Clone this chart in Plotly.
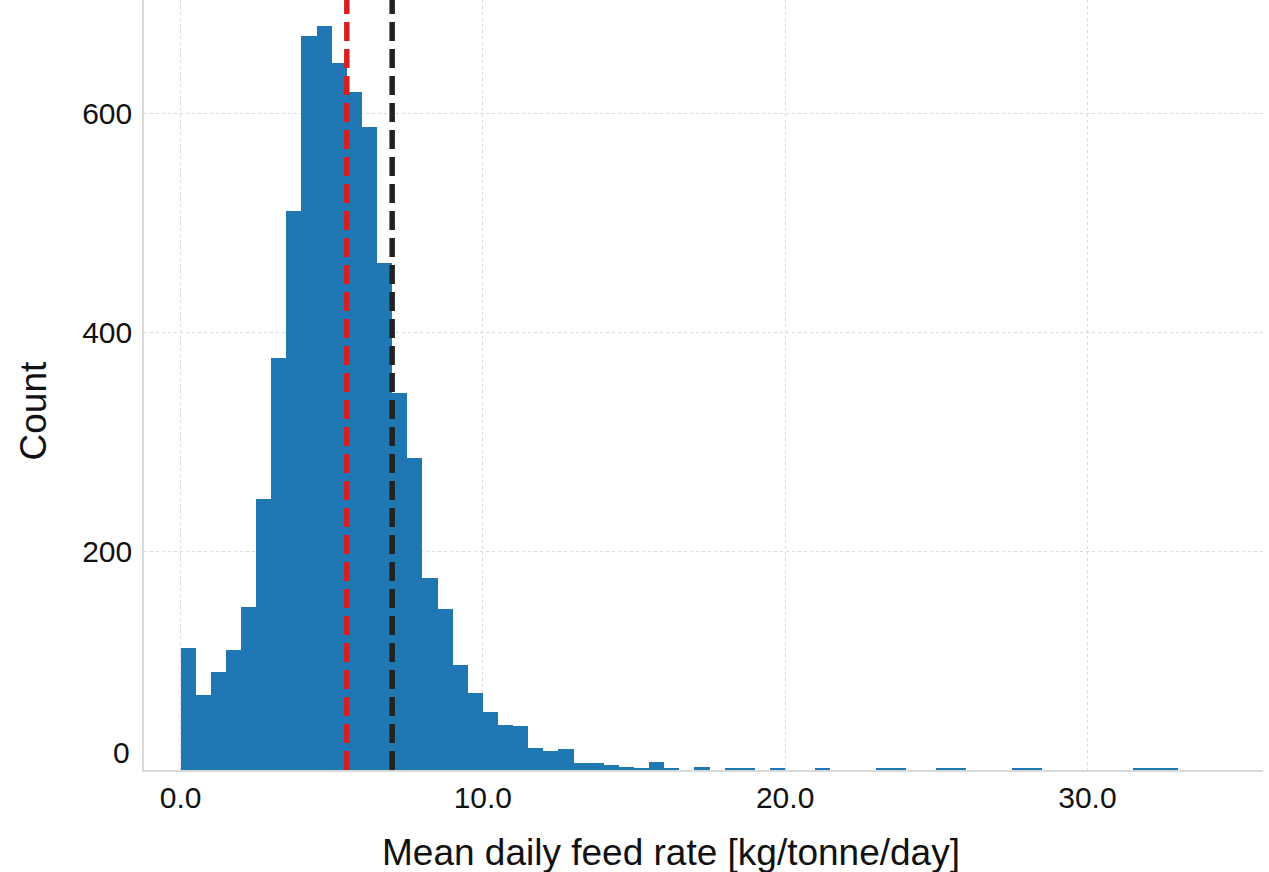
import plotly.graph_objects as go

# ---- data ----
bin_start = 0.0
bin_width = 0.5
counts = [112, 69, 90, 110, 149, 248, 377, 511, 671, 680,
          646, 620, 588, 464, 345, 285, 176, 147, 96, 70,
          53, 41, 40, 20, 17, 19, 6, 6, 5, 3,
          1, 7, 2, 0, 3, 0, 2, 2, 0, 2,
          0, 0, 1, 0, 0, 0, 1, 1, 0, 0,
          1, 1, 0, 0, 0, 1, 2, 0, 0, 0,
          0, 0, 0, 1, 2, 1]
median_value = 5.5
mean_value = 7.0
x_tick_vals = [0, 10, 20, 30]
x_tick_text = ["0.0", "10.0", "20.0", "30.0"]
y_tick_vals = [200, 400, 600]
y_tick_text = ["200", "400", "600"]

bin_centers = [bin_start + bin_width * (i + 0.5) for i in range(len(counts))]

FONT = "Arial, Liberation Sans, sans-serif"
TXT = "#111111"
TICK = 30

fig = go.Figure()
fig.add_trace(go.Bar(x=bin_centers, y=counts, width=bin_width,
                     marker=dict(color="#1f77b4", line=dict(width=0)),
                     showlegend=False, hoverinfo="x+y"))

fig.add_vline(x=median_value, line=dict(color="#d81e1e", width=5.5, dash="19px,8px"))
fig.add_vline(x=mean_value, line=dict(color="#222222", width=5.5, dash="19px,8px"))

fig.update_layout(
    width=1269, height=872,
    margin=dict(l=144, r=6, t=0, b=102),
    paper_bgcolor="white", plot_bgcolor="white",
    bargap=0,
    font=dict(family=FONT, color=TXT),
    xaxis=dict(range=[-1.21, 35.81], tickvals=x_tick_vals, ticktext=x_tick_text,
               tickfont=dict(size=TICK, color=TXT), showgrid=True,
               gridcolor="#d9d9d9", griddash="dot", gridwidth=1,
               showline=True, linecolor="#d9d9d9", linewidth=1.5,
               zeroline=False, ticks="", ticklabelstandoff=0),
    yaxis=dict(range=[0, 704], tickvals=y_tick_vals, ticktext=y_tick_text,
               tickfont=dict(size=TICK, color=TXT), showgrid=True,
               gridcolor="#d9d9d9", griddash="dot", gridwidth=1,
               showline=True, linecolor="#d9d9d9", linewidth=1.5,
               zeroline=False, ticks="", ticklabelstandoff=4),
    annotations=[
        dict(text="0", xref="paper", yref="y", x=-0.011, y=16.3,
             xanchor="right", yanchor="middle", showarrow=False,
             font=dict(size=TICK, color=TXT, family=FONT)),
        dict(text="Mean daily feed rate [kg/tonne/day]", xref="paper", yref="paper",
             x=0.4714, y=-0.107, xanchor="center", yanchor="middle", showarrow=False,
             font=dict(size=37, color=TXT, family=FONT)),
        dict(text="Count", xref="paper", yref="paper", textangle=-90,
             x=-0.0992, y=0.4669, xanchor="center", yanchor="middle", showarrow=False,
             font=dict(size=37, color=TXT, family=FONT)),
    ],
)

fig.write_html("out.html")
